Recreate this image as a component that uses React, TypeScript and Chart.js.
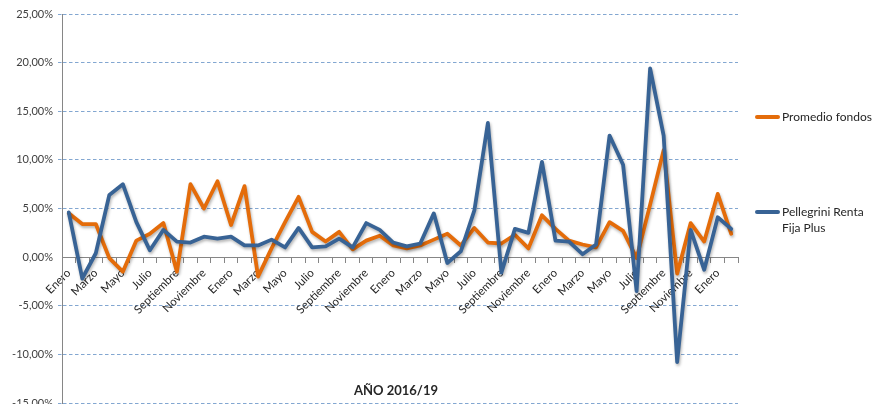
import React, { useEffect, useRef } from 'react';
import { Chart, registerables } from 'chart.js';

Chart.register(...registerables);

const monthNames = ['Enero', 'Febrero', 'Marzo', 'Abril', 'Mayo', 'Junio', 'Julio', 'Agosto', 'Septiembre', 'Octubre', 'Noviembre', 'Diciembre'];
const categories: string[] = Array.from({ length: 50 }, (_, i) => monthNames[i % 12]);

const promedioFondos = [
  4.5, 3.4, 3.4, -0.1, -1.5, 1.7, 2.4, 3.5, -1.5, 7.5,
  5.0, 7.8, 3.3, 7.3, -2.0, 0.9, 3.6, 6.2, 2.6, 1.6,
  2.6, 0.8, 1.7, 2.2, 1.2, 0.9, 1.2, 1.8, 2.4, 1.2,
  3.0, 1.5, 1.4, 2.3, 0.9, 4.3, 2.9, 1.7, 1.3, 1.0,
  3.6, 2.7, -0.1, 5.4, 11.0, -1.7, 3.5, 1.6, 6.5, 2.4,
];

const pellegrini = [
  4.6, -2.2, 0.4, 6.4, 7.5, 3.6, 0.7, 2.8, 1.6, 1.5,
  2.1, 1.9, 2.1, 1.2, 1.2, 1.8, 1.0, 3.0, 1.0, 1.1,
  1.9, 1.0, 3.5, 2.8, 1.5, 1.1, 1.4, 4.5, -0.6, 0.6,
  4.8, 13.8, -1.6, 2.9, 2.5, 9.8, 1.7, 1.6, 0.3, 1.3,
  12.5, 9.5, -3.5, 19.4, 12.5, -10.8, 2.8, -1.3, 4.1, 2.9,
];

const yMin = -15;
const yMax = 25;
const yStep = 5;

const ORANGE = '#E46C0A';
const BLUE = '#386395';
const FONT = 'Lato, "Open Sans", sans-serif';

const shadowPlugin = {
  id: 'lineShadow',
  beforeDatasetDraw(chart: any) {
    const ctx = chart.ctx;
    ctx.save();
    ctx.shadowColor = 'rgba(0,0,0,0.3)';
    ctx.shadowBlur = 3;
    ctx.shadowOffsetX = 1;
    ctx.shadowOffsetY = 2;
  },
  afterDatasetDraw(chart: any) {
    chart.ctx.restore();
  },
};

export default function App() {
  const canvasRef = useRef<HTMLCanvasElement | null>(null);

  useEffect(() => {
    if (!canvasRef.current) return;
    const chart = new Chart(canvasRef.current, {
      type: 'line',
      data: {
        labels: categories,
        datasets: [
          {
            label: 'Promedio fondos',
            data: promedioFondos,
            borderColor: ORANGE,
            backgroundColor: ORANGE,
            borderWidth: 3.8,
            pointRadius: 0,
            tension: 0,
            order: 1,
            borderJoinStyle: 'round',
            borderCapStyle: 'round',
          },
          {
            label: 'Pellegrini Renta Fija Plus',
            data: pellegrini,
            borderColor: BLUE,
            backgroundColor: BLUE,
            borderWidth: 3.8,
            pointRadius: 0,
            tension: 0,
            order: 0,
            borderJoinStyle: 'round',
            borderCapStyle: 'round',
          },
        ],
      },
      options: {
        animation: false,
        responsive: false,
        maintainAspectRatio: false,
        layout: { padding: { top: 14, right: 135, bottom: 1, left: 0 } },
        plugins: {
          legend: { display: false },
          tooltip: { enabled: false },
        },
        scales: {
          x: {
            type: 'category',
            position: { y: 0 } as any,
            offset: true,
            grid: {
              offset: true,
              drawOnChartArea: false,
              drawTicks: true,
              tickLength: 5,
              tickColor: '#868686',
              color: '#868686',
            },
            border: { display: true, color: '#868686', width: 1 },
            ticks: {
              autoSkip: false,
              maxRotation: 45,
              minRotation: 45,
              padding: 4,
              color: '#262626',
              font: { family: FONT, size: 11.5 },
              callback: (_v: any, i: number) => (i % 2 === 0 ? categories[i] : ''),
            },
            afterFit: (scale: any) => {
              scale.height = 0;
              scale.paddingLeft = 0;
              scale.paddingRight = 0;
            },
          },
          y: {
            min: yMin,
            max: yMax,
            ticks: {
              stepSize: yStep,
              padding: 5,
              color: '#404040',
              font: { family: FONT, size: 11 },
              callback: (v: any) => Number(v).toFixed(2).replace('.', ',') + '%',
            },
            grid: {
              color: (ctx: any) => (ctx.tick && ctx.tick.value === 0 ? 'rgba(0,0,0,0)' : 'rgba(79,129,189,0.7)'),
              lineWidth: 1,
              drawTicks: true,
              tickLength: 4,
              tickBorderDash: [3.5, 2.5],
            },
            border: { display: true, color: '#868686', width: 1, dash: [3.5, 2.5] },
            afterFit: (scale: any) => {
              scale.width = 62;
              scale.paddingTop = 0;
              scale.paddingBottom = 0;
            },
          },
        },
      },
      plugins: [shadowPlugin],
    });
    return () => chart.destroy();
  }, []);

  const textStyle: React.CSSProperties = {
    position: 'absolute',
    fontFamily: FONT,
    fontSize: 12,
    color: '#262626',
    lineHeight: '16px',
    whiteSpace: 'nowrap',
  };

  return (
    <div style={{ position: 'fixed', left: 0, top: 0, width: 873, height: 404, background: '#fff', overflow: 'hidden' }}>
      <canvas ref={canvasRef} width={873} height={404} style={{ position: 'absolute', left: 0, top: 0, width: 873, height: 404 }} />
      <div style={{ position: 'absolute', left: 755, top: 115, width: 25, height: 4, background: ORANGE, borderRadius: 2 }} />
      <div style={{ ...textStyle, left: 782, top: 109 }}>Promedio fondos</div>
      <div style={{ position: 'absolute', left: 755, top: 210, width: 25, height: 4, background: BLUE, borderRadius: 2 }} />
      <div style={{ ...textStyle, left: 782, top: 204 }}>
        Pellegrini Renta
        <br />
        Fija Plus
      </div>
      <div
        style={{
          ...textStyle,
          left: 316,
          width: 160,
          textAlign: 'center',
          top: 382,
          fontWeight: 'bold',
          fontSize: 13,
        }}
      >
        AÑO 2016/19
      </div>
    </div>
  );
}
